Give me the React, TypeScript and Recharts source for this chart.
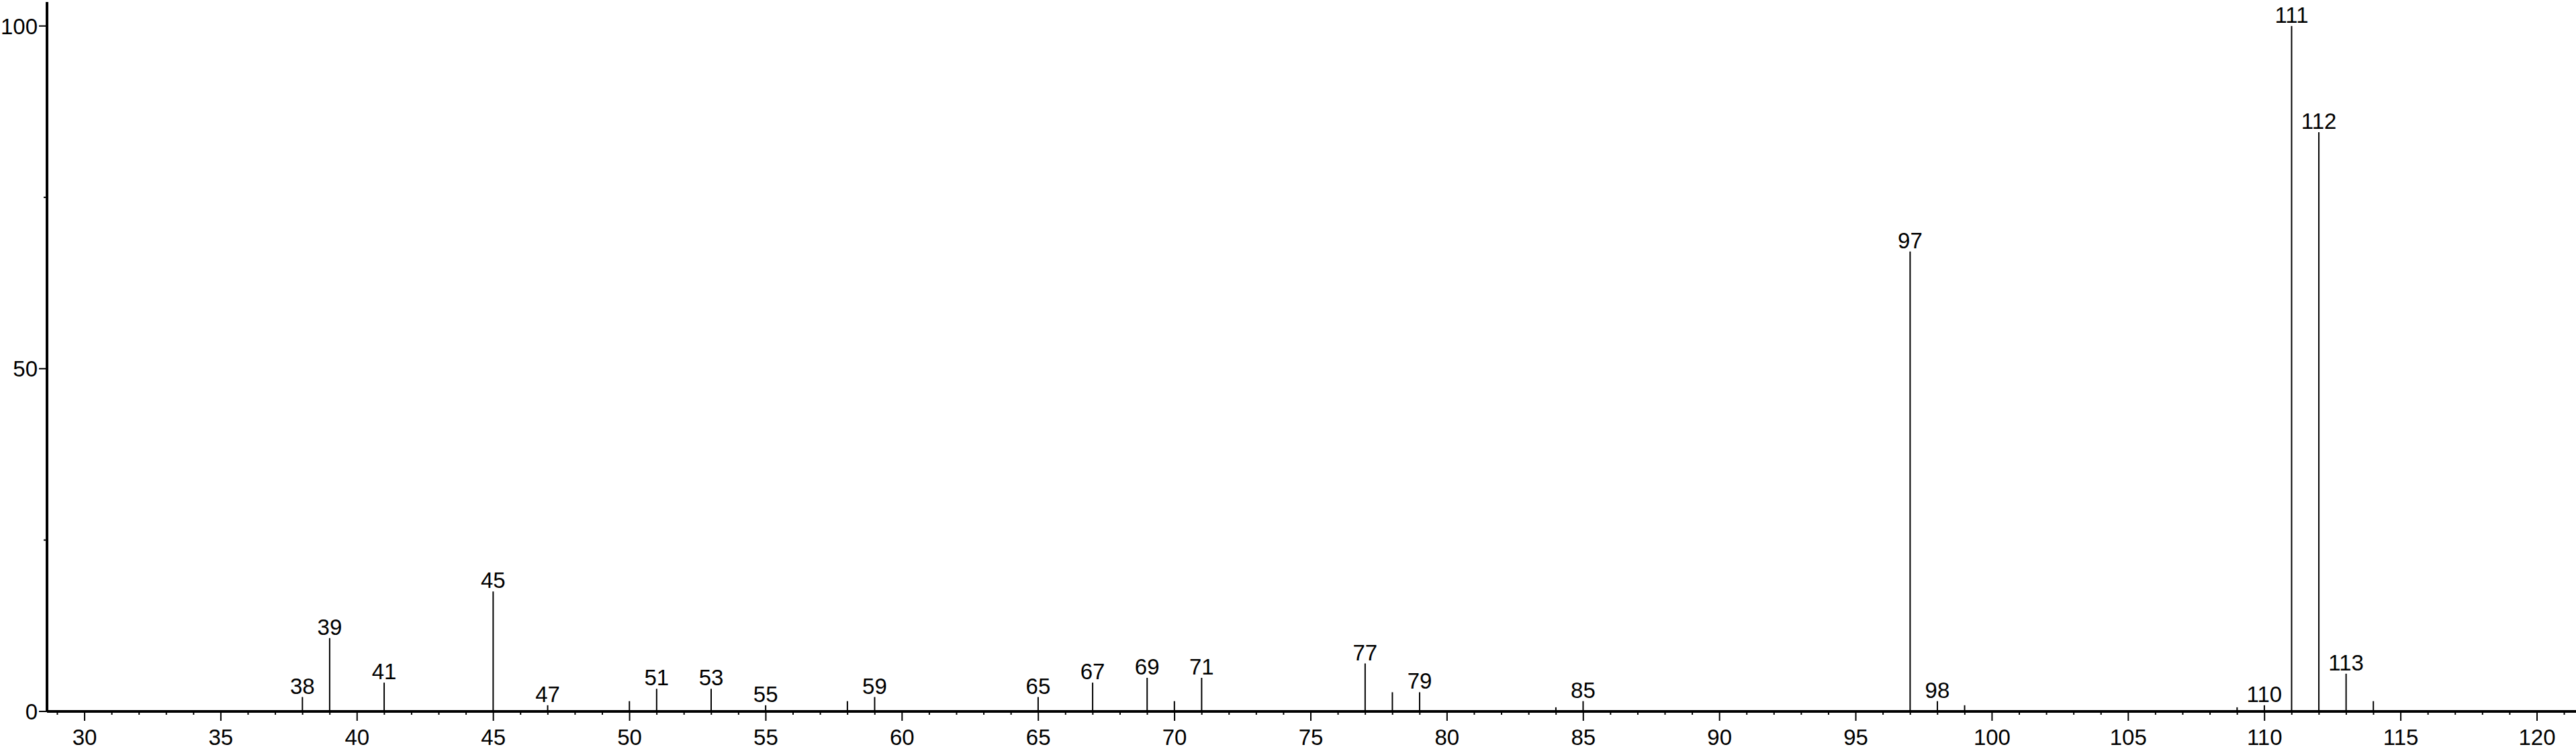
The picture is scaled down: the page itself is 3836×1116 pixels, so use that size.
import React from "react"
import { BarChart, Bar, XAxis, YAxis, LabelList } from "recharts"

// m/z values and relative intensities
const masses = [38, 39, 41, 45, 47, 50, 51, 53, 55, 58, 59, 65, 67, 69, 70, 71, 77, 78, 79, 84, 85, 97, 98, 99, 109, 110, 111, 112, 113, 114]
const intensities = [2.1, 10.7, 4.2, 17.5, 0.9, 1.5, 3.3, 3.3, 0.9, 1.5, 2.1, 2.1, 4.2, 4.9, 1.5, 4.9, 7.0, 2.8, 2.8, 0.6, 1.5, 67.1, 1.5, 0.9, 0.6, 0.9, 100, 84.5, 5.5, 1.5]
const labelledMasses = [38, 39, 41, 45, 47, 51, 53, 55, 59, 65, 67, 69, 71, 77, 79, 85, 97, 98, 110, 111, 112, 113]

const xTicks = [29, 30, 31, 32, 33, 34, 35, 36, 37, 38, 39, 40, 41, 42, 43, 44, 45, 46, 47, 48, 49, 50, 51, 52, 53, 54, 55, 56, 57, 58, 59, 60, 61, 62, 63, 64, 65, 66, 67, 68, 69, 70, 71, 72, 73, 74, 75, 76, 77, 78, 79, 80, 81, 82, 83, 84, 85, 86, 87, 88, 89, 90, 91, 92, 93, 94, 95, 96, 97, 98, 99, 100, 101, 102, 103, 104, 105, 106, 107, 108, 109, 110, 111, 112, 113, 114, 115, 116, 117, 118, 119, 120, 121]
const xLabelTicks = [30, 35, 40, 45, 50, 55, 60, 65, 70, 75, 80, 85, 90, 95, 100, 105, 110, 115, 120]
const yTicks = [0, 25, 50, 75, 100]
const yLabelTicks = [0, 50, 100]

const data = masses.map((mz, i) => ({
  mz,
  value: intensities[i],
  label: labelledMasses.includes(mz) ? String(mz) : "",
}))

const FONT = "'Liberation Sans', Arial, Helvetica, sans-serif"

const XTick = (props: any) => {
  const { x, y, payload } = props
  const major = xLabelTicks.includes(payload.value)
  return (
    <g>
      <line x1={x} x2={x} y1={y} y2={y + (major ? 14 : 5)} stroke="#000" strokeWidth={2} />
      {major && (
        <text x={x} y={y + 50} textAnchor="middle" fontSize={33} fontFamily={FONT} fill="#000">
          {payload.value}
        </text>
      )}
    </g>
  )
}

const YTick = (props: any) => {
  const { x, y, payload } = props
  const major = yLabelTicks.includes(payload.value)
  return (
    <g>
      <line x1={x - (major ? 12 : 5)} x2={x} y1={y} y2={y} stroke="#000" strokeWidth={2} />
      {major && (
        <text x={x - 14} y={y + 12} textAnchor="end" fontSize={33} fontFamily={FONT} fill="#000">
          {payload.value}
        </text>
      )}
    </g>
  )
}

const PeakLabel = (props: any) => {
  const { x, y, width, value } = props
  if (!value) return null
  return (
    <text x={x + width / 2} y={y - 5} textAnchor="middle" fontSize={33} fontFamily={FONT} fill="#000">
      {value}
    </text>
  )
}

export default function App() {
  return (
    <div style={{ position: "absolute", left: 0, top: 0, background: "#fff" }}>
      <BarChart
        width={3836}
        height={1116}
        data={data}
        margin={{ top: 3, right: 0, bottom: 0, left: 0 }}
        barCategoryGap={0}
      >
        <XAxis
          dataKey="mz"
          type="number"
          domain={[28.62, 121.43]}
          ticks={xTicks}
          interval={0}
          allowDataOverflow
          height={56}
          tickLine={false}
          tickSize={0}
          tickMargin={0}
          axisLine={{ stroke: "#000", strokeWidth: 4 }}
          tick={<XTick />}
        />
        <YAxis
          type="number"
          domain={[0, 103.5]}
          ticks={yTicks}
          interval={0}
          allowDataOverflow
          width={70}
          tickLine={false}
          tickSize={0}
          tickMargin={0}
          axisLine={{ stroke: "#000", strokeWidth: 4 }}
          tick={<YTick />}
        />
        <Bar dataKey="value" fill="#000" barSize={2} isAnimationActive={false}>
          <LabelList dataKey="label" content={<PeakLabel />} />
        </Bar>
      </BarChart>
    </div>
  )
}
